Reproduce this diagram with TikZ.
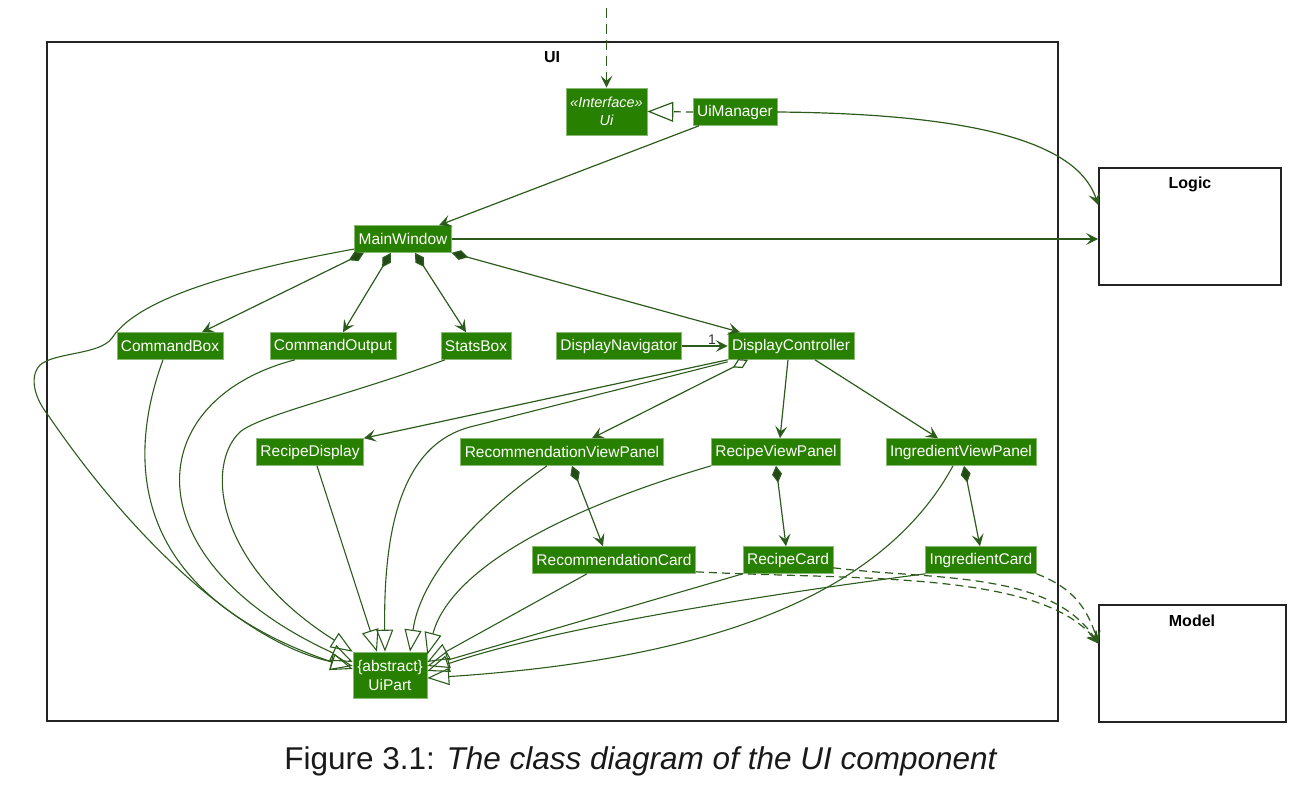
\documentclass[tikz,border=0pt]{standalone}
\usepackage{fontspec}
\setmainfont{Liberation Sans}
\usetikzlibrary{arrows.meta}

\definecolor{classgreen}{RGB}{40,128,0}
\definecolor{edgegreen}{RGB}{44,92,28}
\definecolor{pkgframe}{RGB}{35,35,35}

\tikzset{
  cls/.style={fill=classgreen, draw=classgreen!55!white, line width=0.6pt, text=white,
    font=\fontsize{15.5}{19}\selectfont, inner xsep=4pt, inner ysep=4pt, minimum height=27pt},
  pkg/.style={draw=pkgframe, line width=1.6pt},
  pkgname/.style={font=\fontsize{16}{18}\selectfont\bfseries, text=black},
  edge/.style={draw=edgegreen, line width=1.2pt},
  assoc/.style={edge, -{Stealth[length=12pt,width=12pt,inset=5pt]}},
  comp/.style={edge, {Diamond[length=17pt,width=10pt,fill=edgegreen!80!black]}-{Stealth[length=12pt,width=12pt,inset=5pt]}},
  aggr/.style={edge, {Diamond[open,length=17pt,width=10pt,fill=white]}-{Stealth[length=12pt,width=12pt,inset=5pt]}},
  inherit/.style={edge, line width=1.1pt, -{Triangle[open,length=22pt,width=17pt]}},
  realize/.style={edge, dash pattern=on 7pt off 5pt, -{Triangle[open,length=26pt,width=20pt]}},
  dep/.style={edge, dash pattern=on 8pt off 5pt, -{Stealth[length=12pt,width=12pt,inset=5pt]}},
}

\begin{document}
\begin{tikzpicture}[x=1pt,y=-1pt]
\useasboundingbox (0,0) rectangle (1312,802);

% Drawing package frames
\node[pkg, minimum width=1011pt, minimum height=679pt] (uipkg) at (552.5,381.5) {};%
\node[pkgname] (uiname) at (552,57) {UI};%
\node[pkg, minimum width=182pt, minimum height=117pt] (logic) at (1190,226.5) {};%
\node[pkgname] (logicname) at (1190,184) {Logic};%
\node[pkg, minimum width=187pt, minimum height=117pt] (model) at (1192.5,663.5) {};%
\node[pkgname] (modelname) at (1192,621) {Model};%

% Drawing classes
\node[cls, font=\fontsize{14.5}{18}\selectfont\itshape, align=center, minimum width=81pt, minimum height=47pt] (ui) at (606.5,111.5) {«Interface»\\Ui};%
\node[cls] (uimgr) at (735,112) {UiManager};%
\node[cls] (mw) at (403,239) {MainWindow};%
\node[cls] (cmdbox) at (170,346) {CommandBox};%
\node[cls] (cmdout) at (333,346) {CommandOutput};%
\node[cls] (stats) at (476,346) {StatsBox};%
\node[cls] (dnav) at (619,346) {DisplayNavigator};%
\node[cls] (dctrl) at (791,346) {DisplayController};%
\node[cls] (rdisp) at (310,452) {RecipeDisplay};%
\node[cls] (rvp) at (562,452) {RecommendationViewPanel};%
\node[cls] (recvp) at (776,452) {RecipeViewPanel};%
\node[cls] (ivp) at (961,452) {IngredientViewPanel};%
\node[cls] (rcard) at (614,560) {RecommendationCard};%
\node[cls] (reccard) at (788,560) {RecipeCard};%
\node[cls] (icard) at (981,560) {IngredientCard};%
\node[cls, align=center, minimum width=74pt, minimum height=46pt] (uipart) at (390,675) {\{abstract\}\\UiPart};%

% Drawing Ui and UiManager links
\coordinate (extsrc) at (606.5,8);%
\draw[dep, dash pattern=on 10pt off 6pt] (extsrc) -- (ui.north);%
\draw[realize] (uimgr.west) -- (ui.east);%
\draw[assoc] (uimgr.east) .. controls (1000,114) and (1080,150) .. ([yshift=21.5pt]logic.west);%
\draw[assoc] (uimgr) -- (mw);%
\draw[assoc] (mw.east) -- (mw.east -| logic.west);%

% Drawing MainWindow parts
\draw[comp] ([xshift=-39pt]mw.south) -- ([xshift=32pt]cmdbox.north);%
\draw[comp] ([xshift=-12pt]mw.south) -- ([xshift=10pt]cmdout.north);%
\draw[comp] ([xshift=12pt]mw.south) -- ([xshift=-10pt]stats.north);%
\draw[comp] (mw.south east) -- ([xshift=-51pt]dctrl.north)
  node[at end, xshift=-28pt, yshift=-7pt, font=\fontsize{14}{16}\selectfont, text=black!80] (one) {1};%
\draw[assoc] (dnav) -- (dctrl);%

% Drawing DisplayController parts
\draw[assoc] (dctrl.south west) -- (rdisp.north east);%
\draw[aggr] ([xshift=-43pt]dctrl.south) -- ([xshift=30pt]rvp.north);%
\draw[assoc] ([xshift=-3pt]dctrl.south) -- ([xshift=4pt]recvp.north);%
\draw[assoc] ([xshift=24pt]dctrl.south) -- ([xshift=-23pt]ivp.north);%
\draw[comp] ([xshift=10pt]rvp.south) -- ([xshift=-11pt]rcard.north);%
\draw[comp] (recvp.south) -- ([xshift=-2pt]reccard.north);%
\draw[comp] ([xshift=3pt]ivp.south) -- ([xshift=-1pt]icard.north);%

% Drawing generalisations to UiPart
\draw[inherit] ([yshift=-10pt]mw.west) .. controls (250,268) and (140,295) .. (112,338)
  .. controls (100,355) and (55,352) .. (40,365) .. controls (28,378) and (36,400) .. (48,415)
  .. controls (140,550) and (250,645) .. ([yshift=9pt]uipart.west);%
\draw[inherit] ([xshift=-7pt]cmdbox.south) .. controls (130,450) and (120,590) .. ([yshift=6pt]uipart.west);%
\draw[inherit] ([xshift=-38pt]cmdout.south) .. controls (140,400) and (130,560) .. ([yshift=13pt]uipart.west);%
\draw[inherit] ([xshift=-31pt]stats.south) .. controls (350,395) and (260,415) .. (240,432)
  .. controls (205,465) and (215,565) .. (uipart.north west);%
\draw[inherit] ([xshift=7pt]rdisp.south) -- ([xshift=-13pt]uipart.north);%
\draw[inherit] ([yshift=-2pt]dctrl.south west) -- (470,427) .. controls (410,443) and (383,510) .. ([xshift=-5pt]uipart.north);%
\draw[inherit] ([xshift=-15pt]rvp.south) .. controls (470,520) and (420,580) .. ([xshift=20pt]uipart.north);%
\draw[inherit] (recvp.south west) .. controls (560,510) and (450,570) .. ([yshift=-3pt]uipart.north east);%
\draw[inherit] ([xshift=-27pt]rcard.south) -- ([yshift=13pt]uipart.east);%
\draw[inherit] (reccard.south west) -- ([yshift=9pt]uipart.east);%
\draw[inherit] (icard.south west) .. controls (800,590) and (560,625) .. ([yshift=4pt]uipart.east);%
\draw[inherit] ([xshift=-8pt]ivp.south) .. controls (880,600) and (700,660) .. ([yshift=-3pt]uipart.east);%

% Drawing dependencies on Model
\draw[dep] ([yshift=2pt]rcard.south east) .. controls (850,580) and (1040,570) .. ([yshift=20pt]model.west);%
\draw[dep] ([yshift=6pt]reccard.south east) .. controls (930,580) and (1050,570) .. ([yshift=20pt]model.west);%
\draw[dep] (icard.south east) .. controls (1065,585) and (1085,600) .. ([yshift=20pt]model.west);%

% Caption
\node[font=\fontsize{31.5}{36}\selectfont, text=black!90] (caption) at (641,761) {Figure 3.1: \textit{The class diagram of the UI component}};%
\end{tikzpicture}
\end{document}
